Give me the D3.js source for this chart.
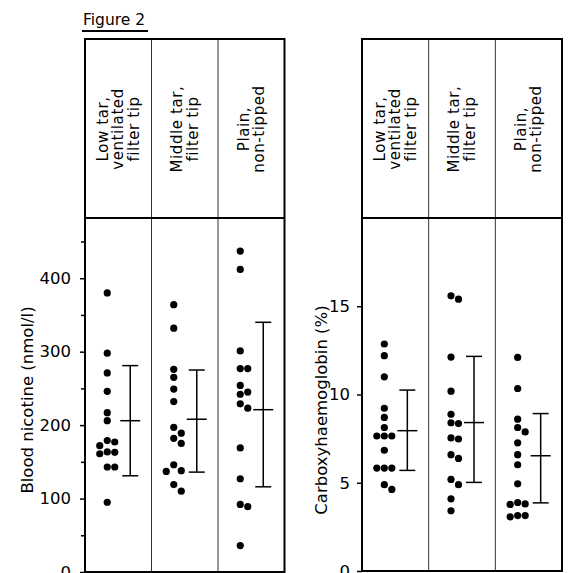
<!DOCTYPE html>
<html>
<head>
<meta charset="utf-8">
<script src="https://cdn.jsdelivr.net/npm/d3@7"></script>
<style>
  body { margin: 0; background: #fff; }
  svg { display: block; }
  text { font-family: "DejaVu Sans", sans-serif; fill: #000; }
</style>
</head>
<body>
<div id="chart"></div>
<script>
// cigarette types (columns of both panels)
const categories = ["Low tar, ventilated filter tip", "Middle tar, filter tip", "Plain, non-tipped"];
const headerLines = [["Low tar,", "ventilated", "filter tip"], ["Middle tar,", "filter tip"], ["Plain,", "non-tipped"]];

// blood nicotine (nmol/l), one array per cigarette type
const nicotineLow = [380, 298, 271, 246, 217, 206, 179, 177, 172, 163.5, 163, 161, 143, 143, 95];
const nicotineMiddle = [364, 332, 276, 265, 249, 232, 197, 189, 182, 175, 146, 138, 137, 119, 110];
const nicotinePlain = [437, 412, 301, 277, 277, 254, 245, 242, 229, 223, 169, 127, 92, 89, 36];
const nicotineMean = [206, 208, 221];
const nicotineUpper = [281, 275, 340];
const nicotineLower = [131, 136, 116];
const nicotineTicks = [0, 100, 200, 300, 400];
const nicotineMinorTicks = [50, 150, 250, 350, 450];

// carboxyhaemoglobin (%)
const cohbLow = [12.86, 12.2, 11.0, 9.22, 8.7, 8.13, 7.65, 7.65, 7.65, 6.84, 5.83, 5.83, 5.83, 4.89, 4.62];
const cohbMiddle = [15.59, 15.4, 12.12, 10.19, 8.88, 8.4, 8.35, 7.54, 7.48, 6.59, 6.38, 5.19, 4.89, 4.09, 3.41];
const cohbPlain = [12.1, 10.34, 8.6, 8.13, 7.88, 7.26, 6.59, 6.02, 4.94, 3.88, 3.8, 3.77, 3.14, 3.14, 3.07];
const cohbMean = [7.95, 8.41, 6.53];
const cohbUpper = [10.25, 12.16, 8.92];
const cohbLower = [5.7, 5.02, 3.86];
const cohbTicks = [0, 5, 10, 15];

var width = 569, height = 573;
var boxTop = 39, plotTop = 218;
var dotR = 3.6;

var svg = d3.select("#chart")
  .append("svg")
  .attr("width", width)
  .attr("height", height);

// Figure title
svg.append("text")
  .attr("x", 83)
  .attr("y", 25)
  .style("font-size", "15.5px")
  .text("Figure 2");
svg.append("line")
  .attr("x1", 82).attr("x2", 148)
  .attr("y1", 31).attr("y2", 31)
  .attr("stroke", "#000")
  .attr("stroke-width", 2);

function drawPanel(cfg) {
  var g = svg.append("g");

  // X: one band per cigarette type
  const x = d3.scaleBand()
    .domain(categories)
    .range([cfg.left, cfg.right]);

  // Y axis scale
  const y = d3.scaleLinear()
    .domain(cfg.domain)
    .range([cfg.bottom, plotTop]);

  // simple dodge so dots with close values sit side by side
  var step = 7.5;
  var slots = [0, 1, -1, 2, -2];
  cfg.series.forEach(function(values, i) {
    var placed = [];
    values.forEach(function(v) {
      var cy = y(v);
      var s = slots.find(function(k) {
        return placed.every(function(p) {
          return Math.hypot((p.k - k) * step, p.cy - cy) >= 6.8;
        });
      });
      placed.push({k: s, cy: cy});
    });
    var cx0 = x(categories[i]) + x.bandwidth() / 2 - 11;
    g.selectAll(null)
      .data(placed)
      .join("circle")
      .attr("cx", d => cx0 + d.k * step)
      .attr("cy", d => d.cy)
      .attr("r", dotR)
      .attr("fill", "#000");
  });

  // mean and range bars
  var bars = categories.map(function(c, i) {
    return {c: c, mean: cfg.mean[i], hi: cfg.upper[i], lo: cfg.lower[i]};
  });
  var bx = d => x(d.c) + x.bandwidth() / 2 + 12;
  var bg = g.selectAll(".ebar").data(bars).join("g").attr("class", "ebar")
    .attr("stroke", "#000").attr("stroke-width", 1.5);
  bg.append("line")
    .attr("x1", bx).attr("x2", bx)
    .attr("y1", d => y(d.hi)).attr("y2", d => y(d.lo));
  bg.append("line")
    .attr("x1", d => bx(d) - 8).attr("x2", d => bx(d) + 8)
    .attr("y1", d => y(d.hi)).attr("y2", d => y(d.hi));
  bg.append("line")
    .attr("x1", d => bx(d) - 8).attr("x2", d => bx(d) + 8)
    .attr("y1", d => y(d.lo)).attr("y2", d => y(d.lo));
  bg.append("line")
    .attr("x1", d => bx(d) - 10).attr("x2", d => bx(d) + 10)
    .attr("y1", d => y(d.mean)).attr("y2", d => y(d.mean));

  // column dividers
  g.selectAll(".divider")
    .data(categories.slice(1))
    .join("line")
    .attr("class", "divider")
    .attr("x1", d => x(d)).attr("x2", d => x(d))
    .attr("y1", boxTop).attr("y2", cfg.bottom)
    .attr("stroke", "#333")
    .attr("stroke-width", 1);

  // outer box + header rule
  g.append("rect")
    .attr("x", cfg.left).attr("y", boxTop)
    .attr("width", cfg.right - cfg.left)
    .attr("height", cfg.bottom - boxTop)
    .attr("fill", "none")
    .attr("stroke", "#000")
    .attr("stroke-width", 2);
  g.append("line")
    .attr("x1", cfg.left).attr("x2", cfg.right)
    .attr("y1", plotTop).attr("y2", plotTop)
    .attr("stroke", "#000")
    .attr("stroke-width", 2);

  // header labels, rotated
  categories.forEach(function(c, i) {
    var lines = headerLines[i];
    var t = g.append("text")
      .attr("transform", `translate(${x(c) + x.bandwidth() / 2},129) rotate(-90)`)
      .style("font-size", "15px")
      .style("letter-spacing", "0.6px")
      .attr("text-anchor", "middle");
    lines.forEach(function(l, j) {
      t.append("tspan")
        .attr("x", 0)
        .attr("y", (j - (lines.length - 1) / 2) * 15.5)
        .attr("dominant-baseline", "central")
        .text(l);
    });
  });

  // Y axis
  var ax = g.append("g")
    .attr("transform", `translate(${cfg.left},0)`)
    .call(d3.axisLeft(y).tickValues(cfg.ticks).tickSize(5).tickPadding(cfg.pad));
  ax.select(".domain").remove();
  ax.selectAll("line").attr("stroke-width", 1.5);
  ax.selectAll("text")
    .attr("font-family", "DejaVu Sans")
    .style("font-size", "16.5px");

  if (cfg.minor) {
    var mx = g.append("g")
      .attr("transform", `translate(${cfg.left},0)`)
      .call(d3.axisLeft(y).tickValues(cfg.minor).tickSize(4).tickFormat(""));
    mx.select(".domain").remove();
    mx.selectAll("line").attr("stroke-width", 1.5);
  }

  // axis title
  g.append("text")
    .attr("transform", `translate(${cfg.titleX},${cfg.titleY}) rotate(-90)`)
    .attr("text-anchor", "middle")
    .attr("dominant-baseline", "central")
    .style("font-size", "16.5px")
    .text(cfg.title);
}

drawPanel({
  left: 85, right: 284.5, bottom: 572,
  domain: [0, 482],
  series: [nicotineLow, nicotineMiddle, nicotinePlain],
  mean: nicotineMean, upper: nicotineUpper, lower: nicotineLower,
  ticks: nicotineTicks, minor: nicotineMinorTicks, pad: 9,
  title: "Blood nicotine (nmol/l)", titleX: 27, titleY: 400
});

drawPanel({
  left: 362, right: 562, bottom: 571,
  domain: [0, 20],
  series: [cohbLow, cohbMiddle, cohbPlain],
  mean: cohbMean, upper: cohbUpper, lower: cohbLower,
  ticks: cohbTicks, minor: null, pad: 7,
  title: "Carboxyhaemoglobin (%)", titleX: 321, titleY: 410
});
</script>
</body>
</html>
